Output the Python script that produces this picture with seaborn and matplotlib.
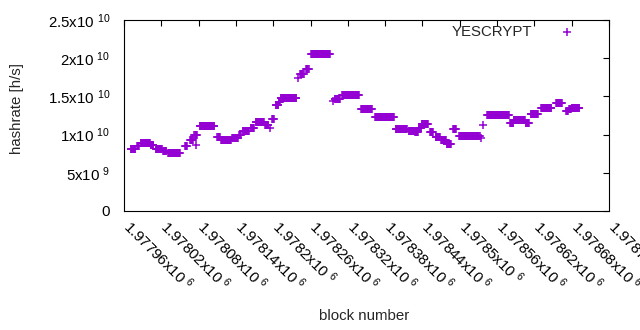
import numpy as np
import pandas as pd
import matplotlib
matplotlib.use('Agg')
import matplotlib.pyplot as plt
import matplotlib.transforms as mtransforms
import seaborn as sns

# runs of (almost) constant hashrate: first block, last block, hashrate
run_first = [1977971, 1977981, 1977987, 1978003, 1978011, 1978023, 1978031, 1978058,
             1978066, 1978073, 1978075, 1978082, 1978110, 1978116, 1978134, 1978145,
             1978151, 1978164, 1978172, 1978187, 1978195, 1978198, 1978204, 1978209,
             1978212, 1978240, 1978243, 1978253, 1978261, 1978296, 1978299, 1978311,
             1978341, 1978364, 1978397, 1978418, 1978428, 1978434, 1978439, 1978452,
             1978461, 1978470, 1978479, 1978489, 1978499, 1978534, 1978537, 1978544,
             1978581, 1978587, 1978606, 1978614, 1978631, 1978655, 1978671, 1978676,
             1978680]
run_last = [1977978, 1977984, 1978002, 1978007, 1978021, 1978028, 1978050, 1978061,
            1978071, 1978077, 1978075, 1978105, 1978114, 1978132, 1978143, 1978148,
            1978161, 1978169, 1978185, 1978192, 1978195, 1978201, 1978208, 1978211,
            1978237, 1978240, 1978249, 1978257, 1978291, 1978296, 1978307, 1978338,
            1978359, 1978394, 1978415, 1978427, 1978433, 1978438, 1978449, 1978457,
            1978468, 1978478, 1978486, 1978494, 1978532, 1978534, 1978537, 1978579,
            1978586, 1978605, 1978611, 1978626, 1978647, 1978664, 1978674, 1978679,
            1978692]
run_rate = [8.1e9, 8.45e9, 8.9e9, 8.6e9, 8.1e9, 7.8e9, 7.55e9, 8.5e9,
            9.3e9, 10.0e9, 8.6e9, 11.1e9, 9.7e9, 9.35e9, 9.55e9, 9.9e9,
            10.5e9, 10.8e9, 11.6e9, 11.3e9, 10.9e9, 12.0e9, 13.9e9, 14.3e9,
            14.75e9, 17.4e9, 17.9e9, 18.6e9, 20.5e9, 14.4e9, 14.7e9, 15.15e9,
            13.35e9, 12.35e9, 10.7e9, 10.5e9, 10.3e9, 10.9e9, 11.35e9, 10.3e9,
            9.75e9, 9.25e9, 8.8e9, 10.7e9, 9.8e9, 9.5e9, 11.3e9, 12.55e9,
            11.5e9, 11.9e9, 11.5e9, 12.7e9, 13.45e9, 14.2e9, 13.1e9, 13.3e9,
            13.45e9]

x_ticks = [1977960 + 60 * i for i in range(14)]
x_tick_labels = ['1.97796', '1.97802', '1.97808', '1.97814', '1.9782', '1.97826', '1.97832',
                 '1.97838', '1.97844', '1.9785', '1.97856', '1.97862', '1.97868', '1.97874']
y_ticks = [0, 5e9, 1e10, 1.5e10, 2e10, 2.5e10]
y_tick_labels = ['0', '5x10 $^{9}$', '1x10 $^{10}$', '1.5x10 $^{10}$', '2x10 $^{10}$', '2.5x10 $^{10}$']

# one point per block inside each run
blocks, rates = [], []
for a, b, r in zip(run_first, run_last, run_rate):
    for blk in range(a, b + 1):
        blocks.append(blk)
        rates.append(r)
df = pd.DataFrame({'block': blocks, 'hashrate': rates})

sns.set_style('white')
plt.rcParams['font.family'] = ['Liberation Sans', 'DejaVu Sans']
plt.rcParams['mathtext.fontset'] = 'custom'
plt.rcParams['mathtext.rm'] = 'Liberation Sans'
plt.rcParams['mathtext.default'] = 'regular'
fs = 10.8

fig = plt.figure(figsize=(6.4, 3.3), dpi=100)
ax = fig.add_axes([124 / 640, 119 / 330, 485 / 640, 191 / 330])

sns.scatterplot(data=df, x='block', y='hashrate', marker='+', s=28, linewidth=1.1,
                color='#9400d3', label='YESCRYPT', ax=ax)

ax.set_xlim(1977960, 1978740)
ax.set_ylim(0, 2.5e10)
ax.set_xticks(x_ticks)
ax.set_xticklabels([t + 'x10 $^{6}$' for t in x_tick_labels], rotation=-45, ha='left',
                   va='top', rotation_mode='anchor', fontsize=fs)
ax.set_yticks(y_ticks)
ax.set_yticklabels(y_tick_labels, fontsize=fs)
ax.tick_params(direction='in', length=4, width=0.8, top=True, right=True, colors='black',
               labelcolor='black')
ax.tick_params(axis='x', pad=8)
ax.tick_params(axis='y', pad=10)
# nudge the slanted labels so they start just right of their tick, like gnuplot
shift = mtransforms.ScaledTranslation(0.09, 0.05, fig.dpi_scale_trans)
for lbl in ax.get_xticklabels():
    lbl.set_transform(lbl.get_transform() + shift)
for sp in ax.spines.values():
    sp.set_color('black')
    sp.set_linewidth(0.8)
ax.set_xlabel('')
ax.set_ylabel('')

fig.text(17 / 640, 1 - 108 / 330, 'hashrate [h/s]', rotation=90, ha='center', va='center', fontsize=fs)
fig.text(364 / 640, 1 - 316 / 330, 'block number', ha='center', va='center', fontsize=fs)

ax.legend(loc='upper right', bbox_to_anchor=(0.944, 0.976), frameon=False, markerfirst=False,
          fontsize=fs, handlelength=2, handletextpad=1.3, borderpad=0, borderaxespad=0)

fig.savefig('out.png', dpi=100)
